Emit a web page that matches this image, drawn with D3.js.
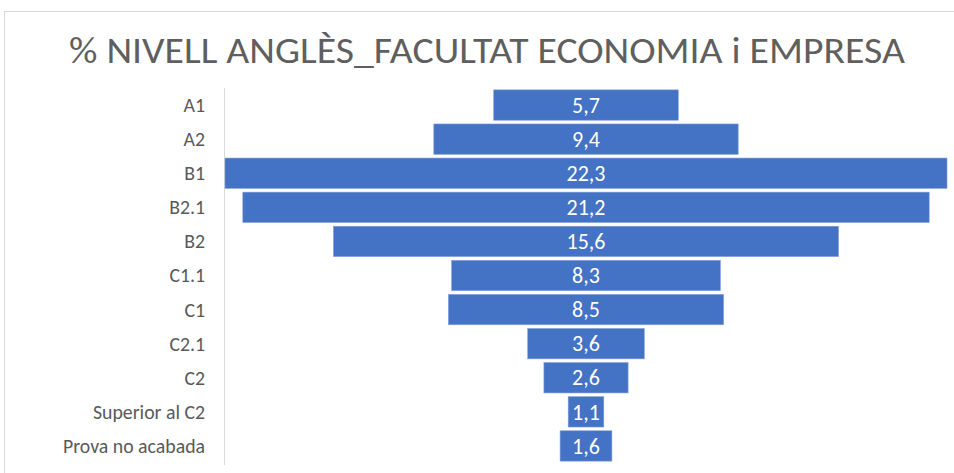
<!DOCTYPE html>
<meta charset="utf-8">
<style>
  body { margin: 0; background: #fff; }
  text { font-family: Carlito, Calibri, "Open Sans", sans-serif; }
</style>
<body>
<svg id="chart"></svg>
<script src="https://d3js.org/d3.v7.min.js"></script>
<script>
  var width = 954, height = 473;

  var categories = ["A1", "A2", "B1", "B2.1", "B2", "C1.1", "C1", "C2.1", "C2", "Superior al C2", "Prova no acabada"];
  var values = [5.7, 9.4, 22.3, 21.2, 15.6, 8.3, 8.5, 3.6, 2.6, 1.1, 1.6];
  var title = "% NIVELL ANGLÈS_FACULTAT ECONOMIA i EMPRESA";

  var fmt = function (v) { return String(v.toFixed(1)).replace(".", ","); };

  var svg = d3.select("#chart").attr("width", width).attr("height", height);

  // chart frame
  svg.append("rect")
    .attr("x", 4.5).attr("y", 11.5)
    .attr("width", 980).attr("height", 500)
    .attr("fill", "#fff").attr("stroke", "#d9d9d9");

  var maxV = d3.max(values);
  var x = d3.scaleLinear()
    .domain([-maxV / 2, maxV / 2])
    .range([225, 947]);

  var y = d3.scaleBand()
    .domain(categories)
    .range([88, 463])
    .paddingInner(0.11)
    .paddingOuter(0.055);

  svg.append("text")
    .attr("x", 487).attr("y", 63)
    .attr("text-anchor", "middle")
    .attr("fill", "#5f5f5f")
    .attr("font-size", 36)
    .attr("textLength", 836)
    .attr("lengthAdjust", "spacingAndGlyphs")
    .text(title);

  // vertical category axis line
  svg.append("line")
    .attr("x1", 224.5).attr("x2", 224.5)
    .attr("y1", 88).attr("y2", 465)
    .attr("stroke", "#d9d9d9");

  var row = svg.append("g").selectAll("g")
    .data(categories)
    .join("g");

  row.append("rect")
    .attr("x", function (d, i) { return x(-values[i] / 2); })
    .attr("width", function (d, i) { return x(values[i] / 2) - x(-values[i] / 2); })
    .attr("y", function (d) { return y(d); })
    .attr("height", y.bandwidth())
    .attr("fill", "#4472c4")
    .attr("stroke", "#7f9fd8")
    .attr("stroke-width", 0.6);

  row.append("text")
    .attr("x", x(0))
    .attr("y", function (d) { return y(d) + y.bandwidth() / 2; })
    .attr("dy", "0.35em")
    .attr("text-anchor", "middle")
    .attr("fill", "#fff")
    .attr("font-size", 22)
    .text(function (d, i) { return fmt(values[i]); });

  row.append("text")
    .attr("x", 205)
    .attr("y", function (d) { return y(d) + y.bandwidth() / 2; })
    .attr("dy", "0.35em")
    .attr("text-anchor", "end")
    .attr("fill", "#595959")
    .attr("font-size", 19.8)
    .text(function (d) { return d; });
</script>
</body>
